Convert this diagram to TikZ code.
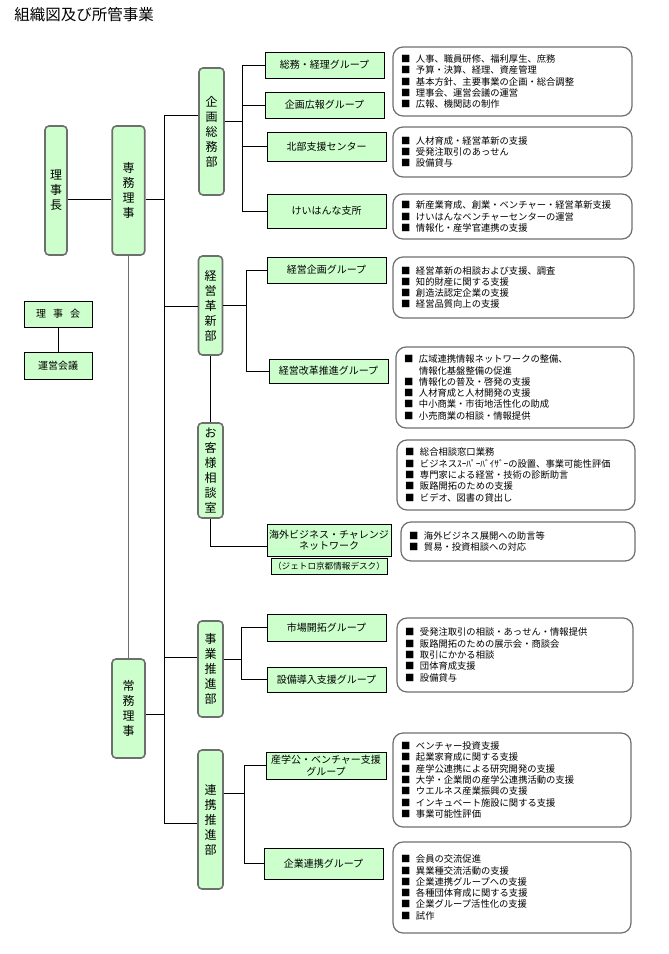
\documentclass[tikz,border=0pt]{standalone}
\usepackage{fontspec}
\setmainfont{Noto Sans CJK JP}
\usepackage{tikz}
\usepackage{xcolor}
\definecolor{palegreen}{HTML}{CCFFCC}
\definecolor{rimgray}{HTML}{6E6E6E}

\newcommand{\bul}{\makebox[15pt][l]{■}}
\newcommand{\cont}{\hspace*{15pt}}

\begin{document}
\begin{tikzpicture}[x=1pt,y=-1pt,line width=0.8pt]
  \tikzstyle{post}=[draw=rimgray,line width=1.6pt,fill=palegreen,rounded corners=4pt,inner sep=0pt,align=center,font=\fontsize{12}{15}\selectfont]
  \tikzstyle{group}=[draw=black,line width=0.9pt,fill=palegreen,inner sep=0pt,align=center,minimum width=119,font=\fontsize{10}{11.5}\selectfont]
  \tikzstyle{board}=[draw=black,line width=0.9pt,fill=palegreen,inner sep=0pt,minimum width=68,font=\fontsize{10}{12}\selectfont]
  \tikzstyle{duty}=[draw=rimgray,line width=1.2pt,rounded corners=10pt,inner xsep=8pt,inner ysep=0pt,align=left,font=\fontsize{9.3}{11.3}\selectfont]

  \useasboundingbox (0,0) rectangle (669,954);

  \node [anchor=west,inner sep=0pt,font=\fontsize{15.5}{18}\selectfont] (title) at (14,15) {組織図及び所管事業};

  % posts
  \node [post,minimum width=22,minimum height=129]   (richo)  at (56,190.5)   {理\\事\\長};
  \node [post,minimum width=32.5,minimum height=129] (senmu)  at (128.5,190.5) {専\\務\\理\\事};
  \node [post,minimum width=33,minimum height=99]    (jomu)   at (128.5,708.5) {常\\務\\理\\事};
  \node [post,minimum width=25,minimum height=127]   (kikaku) at (211.5,131.5) {企\\画\\総\\務\\部};
  \node [post,minimum width=24,minimum height=99]    (keiei)  at (210.5,305.5) {経\\営\\革\\新\\部};
  \node [post,minimum width=25,minimum height=95]    (okyaku) at (210.5,470.5) {お\\客\\様\\相\\談\\室};
  \node [post,minimum width=25,minimum height=96]    (jigyo)  at (210.5,669)   {事\\業\\推\\進\\部};
  \node [post,minimum width=25,minimum height=139]   (renkei) at (210.5,819.5) {連\\携\\推\\進\\部};

  \node [board,minimum height=26] (rijikai) at (58,314)   {理\hspace{7pt}事\hspace{7pt}会};
  \node [board,minimum height=27] (unei)    at (58,365.5) {運営会議};

  % groups
  \node [group,minimum height=26] (soumu)   at (324.5,65)    {総務・経理グループ};
  \node [group,minimum height=26] (kouhou)  at (324.5,105)   {企画広報グループ};
  \node [group,minimum height=29] (hokubu)  at (326.5,146.5) {北部支援センター};
  \node [group,minimum height=34] (keihan)  at (326.5,211)   {けいはんな支所};
  \node [group,minimum height=26] (kkikaku) at (326.5,270)   {経営企画グループ};
  \node [group,minimum height=24] (kaikaku) at (328.5,371)   {経営改革推進グループ};
  \node [group,minimum width=124,minimum height=32] (kaigai) at (329,540) {海外ビジネス・チャレンジ\\ネットワーク};
  \node [group,minimum width=116,minimum height=16,font=\fontsize{8.6}{10}\selectfont] (jetro) at (329,566) {（ジェトロ京都情報デスク）};
  \node [group,minimum height=27] (shijo)   at (326.5,627.5) {市場開拓グループ};
  \node [group,minimum height=25] (setsubi) at (326.5,679.5) {設備導入支援グループ};
  \node [group,minimum width=120,minimum height=27] (sangaku) at (326,765.5) {産学公・ベンチャー支援\\グループ};
  \node [group,minimum height=31] (kigyo)   at (323.5,863.5) {企業連携グループ};

  % duties
  \node [duty,text width=223,minimum height=69] (d1) at (512.5,81.5) {\bul 人事、職員研修、福利厚生、庶務\\\bul 予算・決算、経理、資産管理\\\bul 基本方針、主要事業の企画・総合調整\\\bul 理事会、運営会議の運営\\\bul 広報、機関誌の制作};
  \node [duty,text width=223,minimum height=50] (d2) at (512.5,152) {\bul 人材育成・経営革新の支援\\\bul 受発注取引のあっせん\\\bul 設備貸与};
  \node [duty,text width=223,minimum height=45] (d3) at (512.5,216.5) {\bul 新産業育成、創業・ベンチャー・経営革新支援\\\bul けいはんなベンチャーセンターの運営\\\bul 情報化・産学官連携の支援};
  \node [duty,text width=225,minimum height=61] (d4) at (513.5,287.5) {\bul 経営革新の相談および支援、調査\\\bul 知的財産に関する支援\\\bul 創造法認定企業の支援\\\bul 経営品質向上の支援};
  \node [duty,text width=222,minimum height=81] (d5) at (515,387.5) {\bul 広域連携情報ネットワークの整備、\\\cont 情報化基盤整備の促進\\\bul 情報化の普及・啓発の支援\\\bul 人材育成と人材開発の支援\\\bul 中小商業・市街地活性化の助成\\\bul 小売商業の相談・情報提供};
  \node [duty,text width=222,minimum height=70] (d6) at (516,475) {\bul 総合相談窓口業務\\\bul ビジネスｽｰﾊﾟｰﾊﾞｲｻﾞｰの設置、事業可能性評価\\\bul 専門家による経営・技術の診断助言\\\bul 販路開拓のための支援\\\bul ビデオ、図書の貸出し};
  \node [duty,text width=218,minimum height=39] (d7) at (518,541.5) {\bul 海外ビジネス展開への助言等\\\bul 貿易・投資相談への対応};
  \node [duty,text width=220,minimum height=74] (d8) at (515,655) {\bul 受発注取引の相談・あっせん・情報提供\\\bul 販路開拓のための展示会・商談会\\\bul 取引にかかる相談\\\bul 団体育成支援\\\bul 設備貸与};
  \node [duty,text width=222,minimum height=94] (d9) at (512,780) {\bul ベンチャー投資支援\\\bul 起業家育成に関する支援\\\bul 産学公連携による研究開発の支援\\\bul 大学・企業間の産学公連携活動の支援\\\bul ウエルネス産業振興の支援\\\bul インキュベート施設に関する支援\\\bul 事業可能性評価};
  \node [duty,text width=222,minimum height=91] (d10) at (512,887.5) {\bul 会員の交流促進\\\bul 異業種交流活動の支援\\\bul 企業連携グループへの支援\\\bul 各種団体育成に関する支援\\\bul 企業グループ活性化の支援\\\bul 試作};

  % trunk of the chart
  \coordinate (top) at (164,115);
  \coordinate (bot) at (164,823);
  \draw (top) -- (bot);
  \draw (richo.east |- 0,199) -- (senmu.west |- 0,199);
  \draw (senmu.east |- 0,199) -- (top |- 0,199);
  \draw [draw=rimgray,line width=1pt] (senmu) -- (jomu);
  \draw (jomu.east |- 0,714) -- (top |- 0,714);
  \draw (top) -- (kikaku.west |- top);
  \draw (top |- 0,306) -- (keiei.west |- 0,306);
  \draw (top |- 0,657) -- (jigyo.west |- 0,657);
  \draw (bot) -- (renkei.west |- bot);
  \draw (rijikai) -- (unei);

  % branches
  \coordinate (kb) at (242,0);
  \draw (kikaku.east |- 0,121) -- (kb |- 0,121);
  \draw (kb |- soumu) -- (kb |- keihan);
  \draw (kb |- soumu) -- (soumu.west);
  \draw (kb |- kouhou) -- (kouhou.west);
  \draw (kb |- hokubu) -- (hokubu.west);
  \draw (kb |- keihan) -- (keihan.west);

  \coordinate (eb) at (246,0);
  \draw (keiei.east) -- (eb |- keiei);
  \draw (eb |- kkikaku) -- (eb |- kaikaku);
  \draw (eb |- kkikaku) -- (kkikaku.west);
  \draw (eb |- kaikaku) -- (kaikaku.west);

  \draw (keiei) -- (okyaku);
  \draw (okyaku.south) |- ([yshift=-6pt]kaigai.west);

  \coordinate (jb) at (241,0);
  \draw (jigyo.east |- 0,659) -- (jb |- 0,659);
  \draw (jb |- shijo) -- (jb |- setsubi);
  \draw (jb |- shijo) -- (shijo.west);
  \draw (jb |- setsubi) -- (setsubi.west);

  \coordinate (rb) at (244,0);
  \draw (renkei.east |- 0,793) -- (rb |- 0,793);
  \draw (rb |- sangaku) -- (rb |- kigyo);
  \draw (rb |- sangaku) -- (sangaku.west);
  \draw (rb |- kigyo) -- (kigyo.west);
\end{tikzpicture}
\end{document}
